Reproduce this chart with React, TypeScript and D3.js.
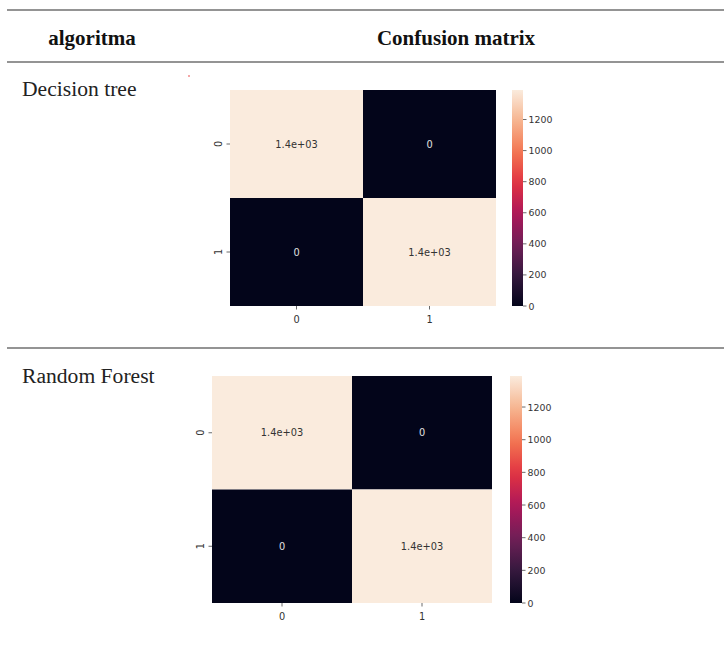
import React from "react";
import * as d3 from "d3";

const algorithms = ["Decision tree", "Random Forest"];
const classLabels = ["0", "1"];
const decisionTreeMatrix = [
  [1390, 0],
  [0, 1390],
];
const randomForestMatrix = [
  [1390, 0],
  [0, 1390],
];
const colorbarTicks = [0, 200, 400, 600, 800, 1000, 1200];
const rocketColors = ["#03051a", "#35193e", "#701f57", "#ad1759", "#e13342", "#f37651", "#f6b48f", "#faebdd"];

const rocket = d3.piecewise(d3.interpolateRgb, rocketColors);

function fmtG(v: number): string {
  const s = d3.format(".2~g")(v);
  return s.replace(/e([+-])(\d)$/, "e$10$2");
}

type HMProps = {
  id: string;
  matrix: number[][];
  x: number;
  y: number;
  w: number;
  h: number;
  cbx: number;
  cbw: number;
};

function Heatmap({ id, matrix, x, y, w, h, cbx, cbw }: HMProps) {
  const xs = d3.scaleBand<string>().domain(classLabels).range([x, x + w]);
  const ys = d3.scaleBand<string>().domain(classLabels).range([y, y + h]);
  const vmax = d3.max(matrix.flat()) as number;
  const vmin = d3.min(matrix.flat()) as number;
  const color = d3.scaleSequential(rocket).domain([vmin, vmax]);
  const cbScale = d3.scaleLinear().domain([vmin, vmax]).range([y + h, y]);
  const font = "'DejaVu Sans', sans-serif";
  const gradStops = d3.range(0, 1.0001, 0.05);
  return (
    <g>
      <defs>
        <linearGradient id={id} x1="0" y1="1" x2="0" y2="0">
          {gradStops.map((t, i) => (
            <stop key={i} offset={t} stopColor={rocket(t)} />
          ))}
        </linearGradient>
      </defs>
      {matrix.map((row, ri) =>
        row.map((v, ci) => {
          const cx = xs(classLabels[ci]) as number;
          const cy = ys(classLabels[ri]) as number;
          const light = d3.hsl(color(v)).l > 0.5;
          return (
            <g key={`${ri}-${ci}`}>
              <rect x={cx} y={cy} width={xs.bandwidth()} height={ys.bandwidth()} fill={color(v)} />
              <text
                x={cx + xs.bandwidth() / 2}
                y={cy + ys.bandwidth() / 2}
                textAnchor="middle"
                dominantBaseline="central"
                fontFamily={font}
                fontSize={9.8}
                fill={light ? "#333" : "#e0e0e0"}
              >
                {fmtG(v)}
              </text>
            </g>
          );
        })
      )}
      {classLabels.map((c) => {
        const cx = (xs(c) as number) + xs.bandwidth() / 2;
        return (
          <g key={"x" + c}>
            <line x1={cx} x2={cx} y1={y + h} y2={y + h + 3.5} stroke="#444" strokeWidth={0.8} />
            <text x={cx} y={y + h + 13} textAnchor="middle" dominantBaseline="central" fontFamily={font} fontSize={9.8} fill="#333">
              {c}
            </text>
          </g>
        );
      })}
      {classLabels.map((c) => {
        const cy = (ys(c) as number) + ys.bandwidth() / 2;
        return (
          <g key={"y" + c}>
            <line x1={x - 3.5} x2={x} y1={cy} y2={cy} stroke="#444" strokeWidth={0.8} />
            <text
              transform={`translate(${x - 12},${cy}) rotate(-90)`}
              textAnchor="middle"
              dominantBaseline="central"
              fontFamily={font}
              fontSize={9.8}
              fill="#333"
            >
              {c}
            </text>
          </g>
        );
      })}
      <rect x={cbx} y={y} width={cbw} height={h} fill={`url(#${id})`} />
      {colorbarTicks.map((t) => (
        <g key={"cb" + t}>
          <line x1={cbx + cbw} x2={cbx + cbw + 3.5} y1={cbScale(t)} y2={cbScale(t)} stroke="#444" strokeWidth={0.8} />
          <text x={cbx + cbw + 5.5} y={cbScale(t)} dominantBaseline="central" fontFamily={font} fontSize={9.4} fill="#333">
            {t}
          </text>
        </g>
      ))}
    </g>
  );
}

export default function App() {
  const serif = "'Liberation Serif', 'Times New Roman', serif";
  const lineColor = "#707070";
  return (
    <svg width={724} height={645} style={{ position: "absolute", left: 0, top: 0, background: "#fff" }}>
      <rect x={0} y={0} width={724} height={645} fill="#fff" />
      <line x1={7} x2={724} y1={10} y2={10} stroke={lineColor} strokeWidth={1.6} />
      <line x1={7} x2={724} y1={62} y2={62} stroke={lineColor} strokeWidth={1.4} />
      <line x1={7} x2={724} y1={348} y2={348} stroke={lineColor} strokeWidth={1.4} />
      <text x={92} y={45} textAnchor="middle" fontFamily={serif} fontWeight="bold" fontSize={21} fill="#111">
        algoritma
      </text>
      <text x={456} y={45} textAnchor="middle" fontFamily={serif} fontWeight="bold" fontSize={21} fill="#111">
        Confusion matrix
      </text>
      <text x={22} y={96} fontFamily={serif} fontSize={21.6} fill="#222">
        {algorithms[0]}
      </text>
      <text x={22} y={383} fontFamily={serif} fontSize={21.6} fill="#222">
        {algorithms[1]}
      </text>
      <circle cx={189} cy={76} r={1} fill="#f08a8a" />
      <Heatmap id="cb1" matrix={decisionTreeMatrix} x={230} y={90} w={266} h={216} cbx={512} cbw={11} />
      <Heatmap id="cb2" matrix={randomForestMatrix} x={212} y={376} w={280} h={227} cbx={510} cbw={12} />
    </svg>
  );
}
